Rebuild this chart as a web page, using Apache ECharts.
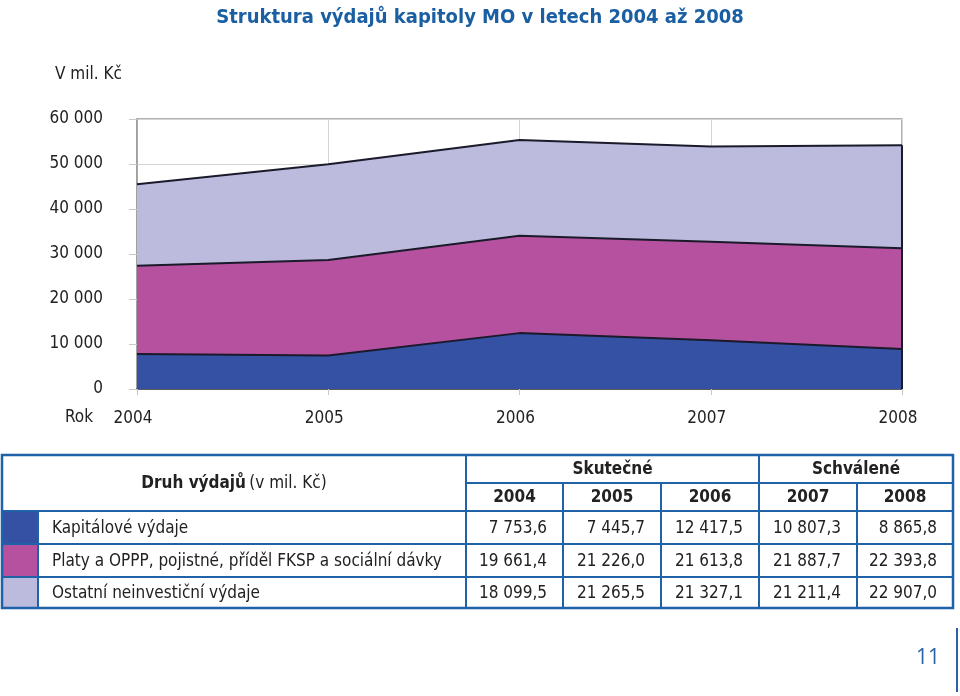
<!DOCTYPE html>
<html>
<head>
<meta charset="utf-8">
<script src="https://cdn.jsdelivr.net/npm/echarts@6/dist/echarts.min.js"></script>
<style>html,body{margin:0;padding:0;background:#fff}#c{width:960px;height:696px}</style>
</head>
<body>
<div id="c"></div>
<script>
// ---- data ----
const years = ['2004', '2005', '2006', '2007', '2008'];
const seriesNames = ['Kapitálové výdaje', 'Platy a OPPP, pojistné, příděl FKSP a sociální dávky', 'Ostatní neinvestiční výdaje'];
const kapitalove = [7753.6, 7445.7, 12417.5, 10807.3, 8865.8];
const platy = [19661.4, 21226.0, 21613.8, 21887.7, 22393.8];
const ostatni = [18099.5, 21265.5, 21327.1, 21211.4, 22907.0];
const groupNames = ['Skutečné', 'Schválené'];
const groupSizes = [3, 2];
const titleText = 'Struktura výdajů kapitoly MO v letech 2004 až 2008';

// ---- styling ----
const FONT = '"Liberation Sans Narrow", "DejaVu Sans Condensed", "Arial Narrow", "Liberation Sans", sans-serif';
const colors = ['#3451a3', '#b5519e', '#bcbbde'];
const BLUE = '#1f62a8';
const allSeries = [kapitalove, platy, ostatni];

function fmtThousands(v) {
  return String(Math.round(v)).replace(/\B(?=(\d{3})+(?!\d))/g, ' ');
}
function fmtCz(v) {
  const parts = v.toFixed(1).split('.');
  return parts[0].replace(/\B(?=(\d{3})+(?!\d))/g, ' ') + ',' + parts[1];
}

const chart = echarts.init(document.getElementById('c'));

// table geometry
const tX0 = 2, tX1 = 953, swatchX = 38, labelX = 466;
const colX = [466, 563, 661, 759, 857, 953];
const rowY = [455, 483, 511, 544, 577, 608];
const graphics = [];
allSeries.forEach((s, i) => {
  graphics.push({ type: 'rect', shape: { x: tX0, y: rowY[2 + i], width: swatchX - tX0, height: rowY[3 + i] - rowY[2 + i] }, style: { fill: colors[i] } });
});
function hline(x1, x2, y, w) { graphics.push({ type: 'line', shape: { x1, y1: y, x2, y2: y }, style: { stroke: BLUE, lineWidth: w || 2 } }); }
function vline(x, y1, y2, w) { graphics.push({ type: 'line', shape: { x1: x, y1, x2: x, y2 }, style: { stroke: BLUE, lineWidth: w || 2 } }); }
graphics.push({ type: 'rect', shape: { x: tX0, y: rowY[0], width: tX1 - tX0, height: rowY[5] - rowY[0] }, style: { fill: 'none', stroke: BLUE, lineWidth: 2.5 } });
hline(labelX, tX1, rowY[1]);
hline(tX0, tX1, rowY[2]);
hline(tX0, tX1, rowY[3]);
hline(tX0, tX1, rowY[4]);
vline(swatchX, rowY[2], rowY[5]);
vline(labelX, rowY[0], rowY[5]);
let gi = 0;
groupSizes.forEach((n, g) => {
  const a = colX[gi], b = colX[gi + n];
  if (g > 0) vline(a, rowY[0], rowY[5]);
  graphics.push({ type: 'text', x: (a + b) / 2, y: (rowY[0] + rowY[1]) / 2 + 1, style: { text: groupNames[g], font: 'bold 17px ' + FONT, fill: '#222', align: 'center', verticalAlign: 'middle' } });
  gi += n;
});
[1, 2, 4].forEach(k => vline(colX[k], rowY[1], rowY[5]));
years.forEach((y, k) => {
  graphics.push({ type: 'text', x: (colX[k] + colX[k + 1]) / 2, y: (rowY[1] + rowY[2]) / 2 + 1, style: { text: y, font: 'bold 17px ' + FONT, fill: '#222', align: 'center', verticalAlign: 'middle' } });
});
graphics.push({ type: 'text', x: (tX0 + labelX) / 2, y: (rowY[0] + rowY[2]) / 2 + 1, style: {
  text: '{b|Druh výdajů} {n|(v mil. Kč)}', align: 'center', verticalAlign: 'middle',
  rich: { b: { font: 'bold 17px ' + FONT, fill: '#222' }, n: { font: '17px ' + FONT, fill: '#222' } } } });
allSeries.forEach((s, i) => {
  const cy = (rowY[2 + i] + rowY[3 + i]) / 2 + 1;
  graphics.push({ type: 'text', x: 52, y: cy, style: { text: seriesNames[i], font: '17px ' + FONT, fill: '#222', align: 'left', verticalAlign: 'middle' } });
  s.forEach((v, k) => {
    graphics.push({ type: 'text', x: colX[k + 1] - 16, y: cy, style: { text: fmtCz(v), font: '17px ' + FONT, fill: '#222', align: 'right', verticalAlign: 'middle' } });
  });
});
graphics.push({ type: 'text', x: 55, y: 75, style: { text: 'V mil. Kč', font: '17px ' + FONT, fill: '#222', align: 'left', verticalAlign: 'middle' } });
graphics.push({ type: 'text', x: 65, y: 418, style: { text: 'Rok', font: '17px ' + FONT, fill: '#222', align: 'left', verticalAlign: 'middle' } });
graphics.push({ type: 'text', x: 940, y: 658, style: { text: '11', font: '21px "Open Sans", "Liberation Sans", sans-serif', fill: '#2a62a6', align: 'right', verticalAlign: 'middle' } });
graphics.push({ type: 'line', shape: { x1: 957, y1: 628, x2: 957, y2: 692 }, style: { stroke: '#2a62a6', lineWidth: 2 } });

const totals2008 = allSeries.reduce((acc, s) => acc + s[s.length - 1], 0);

chart.setOption({
  animation: false,
  title: { text: titleText, left: 'center', top: 3, textStyle: { color: '#1b5fa3', fontSize: 20, fontWeight: 'bold', fontFamily: FONT } },
  grid: { left: 137, right: 58, top: 119, bottom: 307, show: true, borderColor: '#9a9a9a', borderWidth: 1.5, backgroundColor: 'transparent' },
  xAxis: {
    type: 'category', data: years, boundaryGap: false,
    axisLine: { lineStyle: { color: '#333', width: 1.5 } },
    axisTick: { show: true, length: 6, lineStyle: { color: '#c8c8c8' } },
    splitLine: { show: true, lineStyle: { color: '#d4d4d4', width: 1 } },
    axisLabel: { color: '#222', fontSize: 17, fontFamily: FONT, margin: 21, padding: [0, 8, 0, 0] }
  },
  yAxis: {
    type: 'value', min: 0, max: 60000, interval: 10000,
    axisLine: { show: true, lineStyle: { color: '#9a9a9a', width: 1.5 } },
    axisTick: { show: true, length: 8, lineStyle: { color: '#c8c8c8' } },
    splitLine: { show: true, lineStyle: { color: '#d4d4d4', width: 1 } },
    axisLabel: { color: '#222', fontSize: 17, fontFamily: FONT, margin: 34, formatter: v => fmtThousands(v) }
  },
  series: allSeries.map((s, i) => ({
    name: seriesNames[i], type: 'line', stack: 'total', data: s,
    showSymbol: false, symbol: 'none',
    lineStyle: { color: '#1a1a2a', width: 2 },
    areaStyle: { color: colors[i], opacity: 1 },
    z: 2,
    markLine: i === allSeries.length - 1 ? {
      symbol: 'none', silent: true, label: { show: false },
      lineStyle: { color: '#1a1a2a', width: 2, type: 'solid' },
      data: [[{ coord: [years[years.length - 1], 0] }, { coord: [years[years.length - 1], totals2008] }]]
    } : undefined
  })),
  graphic: graphics
});
</script>
</body>
</html>
